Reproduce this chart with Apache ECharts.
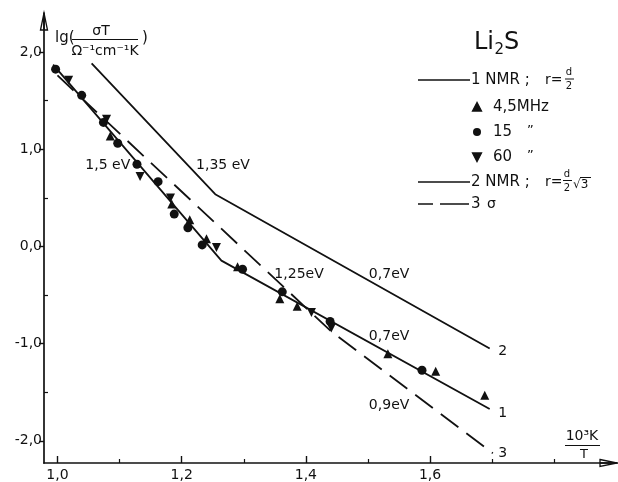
<!DOCTYPE html>
<html><head><meta charset="utf-8">
<script src="https://cdn.jsdelivr.net/npm/echarts@6/dist/echarts.min.js"></script>
<style>html,body{margin:0;padding:0;background:#fff}#c{width:618px;height:482px}</style>
</head><body><div id="c"></div>
<script>
// ---- data ----
const xTickLabels = [1.0, 1.2, 1.4, 1.6];
const xMajorTicks = [1.0, 1.2, 1.4, 1.6];
const xMinorTicks = [1.1, 1.3, 1.5, 1.7, 1.8];
const yTickLabels = [-2, -1, 0, 1, 2];
const yMinorTicks = [-1.5, -0.5, 0.5, 1.5];

// fitted lines (1: NMR r=d/2, 2: NMR r=d/2*sqrt3, 3: sigma)
const line1 = [[0.993, 1.872], [1.264, -0.146], [1.696, -1.672]];
const line2 = [[1.055, 1.884], [1.254, 0.538], [1.696, -1.051]];
const line3 = [[1.0, 1.76], [1.44, -0.87], [1.701, -2.128]];

// measured points
const tri45 = [[1.085, 1.136], [1.184, 0.436], [1.213, 0.275], [1.240, 0.080], [1.290, -0.210],
  [1.358, -0.538], [1.386, -0.615], [1.532, -1.103], [1.609, -1.284], [1.688, -1.530]];
const circ15 = [[0.997, 1.825], [1.039, 1.555], [1.074, 1.277], [1.097, 1.062], [1.128, 0.846],
  [1.162, 0.667], [1.188, 0.333], [1.210, 0.193], [1.233, 0.016], [1.298, -0.235],
  [1.362, -0.467], [1.439, -0.771], [1.587, -1.274]];
const tri60 = [[1.018, 1.710], [1.079, 1.310], [1.133, 0.720], [1.182, 0.500], [1.256, -0.010],
  [1.409, -0.680], [1.441, -0.839]];

// in-plot annotations [x, y, text]
const annotations = [
  [1.081, 0.835, '1,5 eV'], [1.2665, 0.835, '1,35 eV'], [1.389, -0.282, '1,25eV'],
  [1.534, -0.282, '0,7eV'], [1.534, -0.927, '0,7eV'], [1.534, -1.634, '0,9eV'],
  [1.717, -1.716, '1'], [1.717, -1.081, '2'], [1.717, -2.126, '3']
];

(function () {
const X_MIN = 0.9783, X_MAX = 1.901, Y_MIN = -2.2285, Y_MAX = 2.4027;
const INK = '#111';
const FONT = 'DejaVu Sans';
const fmt = v => Number(v).toFixed(1).replace('.', ',');

const chart = echarts.init(document.getElementById('c'), null, {renderer: 'canvas'});
chart.setOption({
  animation: false,
  backgroundColor: '#fff',
  grid: {left: 44, right: 1, top: 13, bottom: 17},
  xAxis: [{
    type: 'value', min: X_MIN, max: X_MAX, position: 'bottom',
    splitLine: {show: false},
    axisLine: {show: true, onZero: false, lineStyle: {color: INK, width: 1.7}},
    axisTick: {show: true, inside: true, length: 7, customValues: xMajorTicks, lineStyle: {color: INK, width: 1.4}},
    axisLabel: {customValues: xTickLabels, formatter: fmt, color: INK, fontSize: 14, fontFamily: FONT, margin: 5}
  }, {
    type: 'value', min: X_MIN, max: X_MAX, position: 'bottom', gridIndex: 0,
    splitLine: {show: false}, axisLine: {show: false, onZero: false}, axisLabel: {show: false},
    axisTick: {show: true, inside: true, length: 4, customValues: xMinorTicks, lineStyle: {color: INK, width: 1.2}}
  }],
  yAxis: [{
    type: 'value', min: Y_MIN, max: Y_MAX, position: 'left',
    splitLine: {show: false},
    axisLine: {show: true, onZero: false, lineStyle: {color: INK, width: 1.7}},
    axisTick: {show: true, inside: false, length: 5, customValues: yTickLabels, lineStyle: {color: INK, width: 1.4}},
    axisLabel: {customValues: yTickLabels, formatter: fmt, color: INK, fontSize: 14, fontFamily: FONT, margin: 2}
  }, {
    type: 'value', min: Y_MIN, max: Y_MAX, position: 'left', gridIndex: 0, offset: 0,
    splitLine: {show: false}, axisLine: {show: false, onZero: false}, axisLabel: {show: false},
    axisTick: {show: true, inside: true, length: 4, customValues: yMinorTicks, lineStyle: {color: INK, width: 1.2}}
  }],
  series: [
    {type: 'line', data: line1, showSymbol: false, lineStyle: {color: INK, width: 1.8}, z: 2},
    {type: 'line', data: line2, showSymbol: false, lineStyle: {color: INK, width: 1.8}, z: 2},
    {type: 'line', data: line3, showSymbol: false, lineStyle: {color: INK, width: 1.8, type: [22, 10]}, z: 2},
    {type: 'scatter', data: tri45, symbol: 'triangle', symbolSize: 9, itemStyle: {color: INK, opacity: 1}, z: 3},
    {type: 'scatter', data: circ15, symbol: 'circle', symbolSize: 9, itemStyle: {color: INK, opacity: 1}, z: 3},
    {type: 'scatter', data: tri60, symbol: 'triangle', symbolRotate: 180, symbolSize: 9, itemStyle: {color: INK, opacity: 1}, z: 3}
  ]
});

// decorations: arrows, axis names, legend
const toPx = (x, y) => chart.convertToPixel({xAxisIndex: 0, yAxisIndex: 0}, [x, y]);
const pTop = toPx(X_MIN, Y_MAX);
const pRight = toPx(X_MAX, Y_MIN);
const T = (text, x, y, size, align) => ({
  type: 'text', x: x, y: y, silent: true, z: 10,
  style: {text: text, fill: INK, font: size + 'px "' + FONT + '"', textAlign: align || 'left', textVerticalAlign: 'middle'}
});
const L = (x1, y1, x2, y2, w, dash) => ({
  type: 'line', silent: true, shape: {x1: x1, y1: y1, x2: x2, y2: y2},
  style: {stroke: INK, lineWidth: w || 1.5, lineDash: dash || null}
});
const P = (pts, fill) => ({type: 'polygon', silent: true, shape: {points: pts},
  style: {fill: fill ? INK : '#fff', stroke: INK, lineWidth: 1.3}});

const g = [
  // arrows
  P([[pTop[0] - 3.5, pTop[1] + 17], [pTop[0], pTop[1]], [pTop[0] + 3.5, pTop[1] + 17]], false),
  L(pTop[0], pTop[1] + 17, pTop[0], pTop[1] + 2, 1.6),
  P([[pRight[0] - 17, pRight[1] - 3.5], [pRight[0], pRight[1]], [pRight[0] - 17, pRight[1] + 3.5]], false),
  L(pRight[0] - 17, pRight[1], pRight[0] - 2, pRight[1], 1.6),
  // y-axis name
  T('lg(', 55, 38, 15),
  T('σT', 101, 31, 14, 'center'),
  L(72, 39.5, 138, 39.5, 1.2),
  T('Ω⁻¹cm⁻¹K', 105, 51, 14, 'center'),
  T(')', 142, 38, 15),
  // x-axis name
  T('10³K', 582, 436, 14, 'center'),
  L(565, 445.5, 600, 445.5, 1.2),
  T('T', 584, 455, 13, 'center'),
  // legend title
  T('Li', 474, 43, 24),
  T('2', 494.5, 50, 15),
  T('S', 504, 43, 24),
  // legend line 1
  L(418, 80, 470, 80, 1.5),
  T('1 NMR ;', 471, 80, 15),
  T('r=', 545, 80, 14),
  T('d', 569, 72, 10, 'center'),
  L(565, 79, 574, 79, 1),
  T('2', 569, 86, 10, 'center'),
  // markers
  P([[477, 102.5], [472.5, 111], [481.5, 111]], true),
  T('4,5MHz', 493, 107, 15),
  {type: 'circle', silent: true, shape: {cx: 477, cy: 132, r: 4}, style: {fill: INK}},
  T('15', 493, 132, 15),
  T('”', 527, 131, 13),
  P([[472.5, 153], [481.5, 153], [477, 161.5]], true),
  T('60', 493, 157, 15),
  T('”', 527, 156, 13),
  // legend line 2
  L(418, 182, 470, 182, 1.5),
  T('2 NMR ;', 471, 182, 15),
  T('r=', 545, 182, 14),
  T('d', 567, 174, 10, 'center'),
  L(563, 180.5, 572, 180.5, 1),
  T('2', 567, 188, 10, 'center'),
  T('√3', 573, 185, 12),
  L(580, 177.5, 591, 177.5, 1),
  // legend line 3
  L(418, 204, 433, 204, 1.5),
  L(440, 204, 469, 204, 1.5),
  T('3', 471, 204, 15),
  T('σ', 487, 204, 14)
];
annotations.forEach(a => {
  const p = toPx(a[0], a[1]);
  g.push(T(a[2], p[0], p[1], 14, 'center'));
});
chart.setOption({graphic: g});
})();
</script>
</body></html>
